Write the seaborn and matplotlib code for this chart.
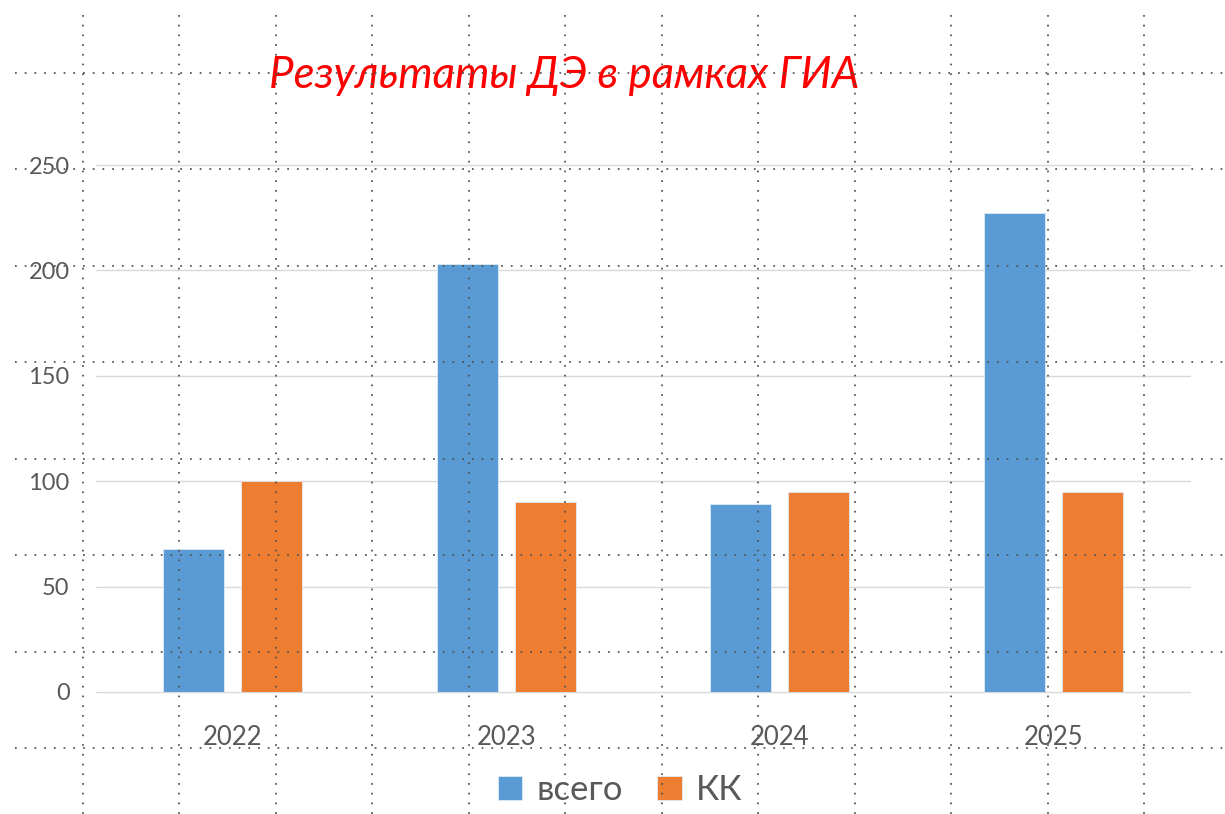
import numpy as np
import pandas as pd
import seaborn as sns
import matplotlib.pyplot as plt
from matplotlib.lines import Line2D

years = ['2022', '2023', '2024', '2025']
vsego = [68, 203, 89, 227]
kk = [100, 90, 95, 95]
series_names = ['всего', 'КК']
colors = ['#5B9BD5', '#ED7D31']

df = pd.DataFrame({
    'year': years * 2,
    'value': vsego + kk,
    'series': [series_names[0]] * 4 + [series_names[1]] * 4,
})

sns.set_theme(style='white')
plt.rcParams['font.family'] = ['Lato', 'DejaVu Sans']

W, H = 1225, 814
fig = plt.figure(figsize=(W / 100, H / 100), dpi=100)
ax = fig.add_axes([96 / W, 1 - 692 / H, (1190 - 96) / W, (692 - 165) / H])

sns.barplot(data=df, x='year', y='value', hue='series', order=years,
            hue_order=series_names, palette=colors, saturation=1,
            width=0.57, gap=0.22, edgecolor='#dfeaf5', linewidth=0.6,
            ax=ax, zorder=3)

ax.set_xlim(-0.5, 3.5)
ax.set_ylim(0, 250)
ax.set_yticks([0, 50, 100, 150, 200, 250])
ax.yaxis.grid(True, color='#d9d9d9', linewidth=1)
for gl in ax.get_ygridlines():
    gl.set_clip_on(False)
ax.set_axisbelow(True)
for s in ax.spines.values():
    s.set_visible(False)
ax.set_xlabel('')
ax.set_ylabel('')
ax.tick_params(axis='y', length=0, pad=19, labelsize=17, labelcolor='#595959')
ax.tick_params(axis='x', length=0, pad=24, labelsize=18.5, labelcolor='#595959')

handles, labels = ax.get_legend_handles_labels()
ax.legend(handles, labels, loc='center', bbox_to_anchor=(620 / W, 1 - 790 / H),
          bbox_transform=fig.transFigure, ncol=2, frameon=False,
          fontsize=25, handlelength=0.7, handleheight=0.7, handletextpad=0.4,
          columnspacing=1.0, labelcolor='#595959')

fig.text(564 / W, 1 - 75 / H, 'Результаты ДЭ в рамках ГИА', color='#FF0000',
         fontsize=31.5, style='italic', ha='center', va='center')

# dotted slide grid overlay
xs = [83, 179, 276, 372, 469, 565, 662, 758, 855, 951, 1048, 1144]
ys = [73, 169, 266, 362, 459, 555, 652, 748]
dots = dict(transform=fig.transFigure, color='#505050', lw=1.25,
            linestyle=(0, (1, 4.6)), zorder=10)
for x in xs:
    fig.add_artist(Line2D([x / W, x / W], [1 - 15 / H, 0], **dots))
for y in ys:
    fig.add_artist(Line2D([15 / W, 1], [1 - y / H, 1 - y / H], **dots))

fig.savefig('out.png', dpi=100)
